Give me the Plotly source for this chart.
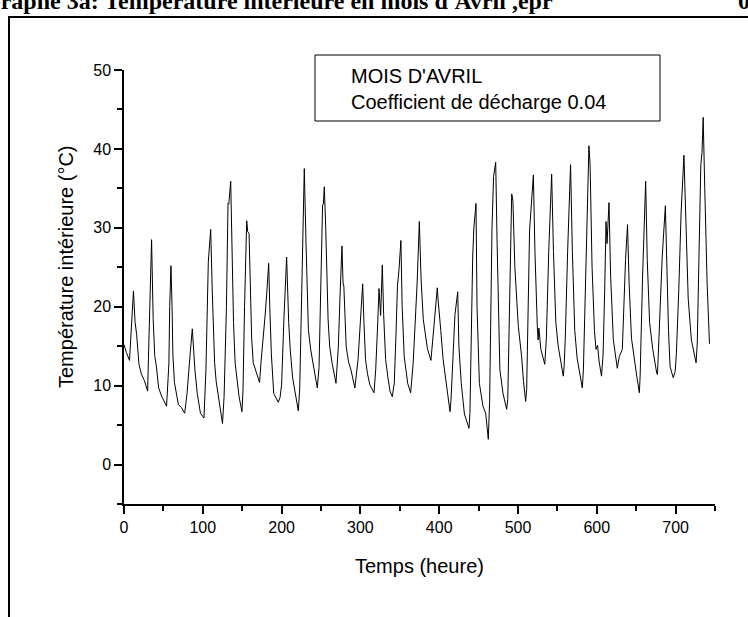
import plotly.graph_objects as go

# Data (hour, interior temperature °C)
hours = [0, 3, 7, 9, 12, 14, 16, 19, 22, 26, 30,
         31, 33, 35, 37, 38, 39, 41, 44, 48, 52, 54,
         56, 57, 58, 59.6, 61, 62, 64, 69, 73, 77,
         80, 83, 84, 86.7, 88, 90, 93, 97, 101.5,
         104, 107, 110, 112, 115, 117, 120, 123, 125,
         127, 130, 132, 133, 135.4, 137, 139, 141, 146, 149.7,
         151, 153, 155.7, 157, 158.7, 160, 162, 164, 170, 172,
         174, 177, 179, 181, 183.6, 185, 187, 190, 195.8,
         198, 200, 203, 206.4, 209, 211, 214, 217, 221.2,
         223, 226, 228.8, 231, 234, 237, 240, 245.3,
         247.5, 250, 252, 253, 254.2, 256, 259, 261, 264, 269,
         272, 274, 276.6, 278, 279, 282, 285, 288, 293,
         297, 300, 302.9, 304.5, 306.5, 309, 312, 317.3,
         319.4, 322, 323.6, 325.7, 327.8, 329.5, 332, 335, 337.6, 340.5,
         343, 345, 347, 349, 351.4, 353, 355.6, 360, 363.8,
         367, 369, 371, 372, 374.8, 377, 379.8, 382, 385, 389.5,
         393.7, 397.6, 398.5, 400, 402, 405, 409, 413.7,
         415, 418, 420, 423.5, 425, 428, 432, 437.8,
         439, 442.5, 444, 446.7, 448, 451, 455.5, 459, 462.3,
         464, 467, 469, 471.7, 473.5, 477, 481, 485.6,
         487, 490, 492, 493.5, 496, 500.4, 504.6, 507, 509.7,
         511, 514.7, 519.5, 521.5, 524.5, 525.5, 526.5, 529, 534,
         536, 539, 542.7, 545, 548, 551, 554, 557.5, 558.5,
         560, 563, 566.7, 569, 572, 575, 578, 581.6,
         583, 586, 590, 591.5, 594, 597, 599, 601, 603, 606,
         608, 610, 611.7, 613, 615.5, 617.5, 621, 626, 628.6, 632.4,
         634, 636.5, 639, 641, 644, 647, 651, 654,
         655, 658, 662, 664, 667, 671, 674, 676, 677, 678,
         681, 683, 687, 689, 691, 693, 697, 699.5, 701,
         704, 707, 710.6, 713, 716, 720, 723, 726, 727.5,
         730, 732, 733.5, 735, 737, 740, 743]

temps = [15.2, 14.2, 13.2, 16.5, 22.0, 18.1, 16.5, 12.7, 11.5, 10.6, 9.3,
         13.4, 20.0, 28.5, 18.5, 16.0, 13.8, 12.5, 9.7, 8.6, 7.8, 7.4,
         11.0, 12.9, 20.0, 25.2, 20.0, 14.0, 10.4, 7.6, 7.2, 6.5,
         9.0, 13.5, 14.1, 17.2, 15.0, 12.0, 9.0, 6.5, 5.9,
         12.0, 25.7, 29.8, 22.0, 12.9, 10.5, 8.6, 7.0, 5.2,
         8.6, 20.0, 33.1, 33.0, 35.9, 27.0, 18.0, 12.9, 8.6, 6.7,
         9.4, 20.0, 30.9, 29.5, 29.3, 24.0, 16.0, 12.9, 11.0, 10.4,
         13.1, 16.0, 18.8, 21.5, 25.5, 20.0, 14.0, 9.0, 7.9,
         8.5, 10.1, 18.6, 26.3, 18.0, 14.5, 11.0, 9.4, 6.8,
         9.7, 25.0, 37.5, 28.0, 17.1, 14.5, 12.9, 9.7,
         12.3, 24.0, 32.9, 33.0, 35.2, 30.0, 18.4, 15.0, 12.9, 10.3,
         14.9, 21.0, 27.7, 23.0, 22.6, 14.9, 13.0, 12.0, 9.7,
         13.3, 18.5, 22.9, 18.0, 13.3, 11.5, 10.1, 9.1,
         12.0, 18.0, 22.3, 18.9, 25.3, 19.0, 13.3, 11.0, 9.3, 8.6,
         10.3, 16.0, 22.6, 24.7, 28.4, 20.0, 13.7, 10.3, 9.1,
         12.9, 17.0, 22.6, 23.0, 30.8, 23.5, 18.4, 16.5, 14.7, 13.2,
         18.0, 22.4, 21.0, 19.6, 17.0, 13.3, 10.0, 6.7,
         8.2, 15.7, 19.0, 21.9, 15.0, 10.3, 6.4, 4.6,
         6.5, 26.3, 30.0, 33.1, 20.0, 10.3, 7.4, 6.5, 3.2,
         8.0, 30.0, 36.5, 38.3, 28.0, 12.0, 9.0, 7.0,
         8.2, 26.0, 34.3, 33.5, 25.0, 17.5, 13.7, 10.5, 8.0,
         9.5, 29.7, 36.7, 27.0, 17.5, 15.8, 17.3, 14.6, 12.7,
         16.0, 27.0, 36.8, 27.0, 18.0, 15.0, 13.0, 11.2, 12.4,
         16.0, 27.0, 38.0, 27.0, 17.0, 13.5, 11.9, 9.7,
         12.0, 25.0, 40.4, 38.0, 25.0, 17.0, 14.6, 15.1, 13.0, 11.2,
         14.0, 22.0, 30.8, 28.0, 33.2, 24.0, 15.8, 12.2, 13.7, 14.6,
         20.0, 26.0, 30.4, 23.0, 16.0, 13.7, 11.0, 9.1,
         11.2, 23.5, 35.9, 26.0, 18.0, 14.6, 12.5, 11.6, 11.4, 13.7,
         22.0, 26.3, 32.8, 24.0, 17.0, 12.4, 11.0, 11.8, 14.1,
         22.0, 32.0, 39.2, 30.0, 21.0, 15.8, 14.5, 12.9, 15.4,
         28.0, 38.0, 39.5, 44.0, 35.0, 23.0, 15.3]

x_tickvals = [0, 100, 200, 300, 400, 500, 600, 700]
y_tickvals = [0, 10, 20, 30, 40, 50]
legend_lines = ["MOIS D'AVRIL", "Coefficient de décharge 0.04"]
x_title = "Temps (heure)"
y_title = "Température intérieure (°C)"
page_title = "Graphe 3a: Température intérieure en mois d'Avril ,epr"

W, H = 748, 617
L, R, T, B = 124, 33, 70, 113
PW, PH = W - L - R, H - T - B


def px(xp):
    return (xp - L) / PW


def py(yp):
    return (H - B - yp) / PH


fig = go.Figure()
fig.add_trace(go.Scatter(x=hours, y=temps, mode="lines",
                         line=dict(color="black", width=1), showlegend=False))

axis_common = dict(showgrid=False, zeroline=False, showline=True,
                   linecolor="black", linewidth=1.5, ticks="outside",
                   tickcolor="black", tickwidth=1.5, ticklen=8,
                   tickfont=dict(family="Liberation Sans, Arial", size=16, color="black"))

fig.update_xaxes(range=[0, 750], tickvals=x_tickvals, **axis_common,
                 minor=dict(dtick=50, tick0=0, ticks="outside", ticklen=5,
                            tickcolor="black", tickwidth=1.5))
fig.update_yaxes(range=[-5, 50], tickvals=y_tickvals, **axis_common,
                 minor=dict(dtick=5, tick0=0, ticks="outside", ticklen=5,
                            tickcolor="black", tickwidth=1.5))

shapes = [
    # outer frame (left and top edges visible)
    dict(type="line", xref="paper", yref="paper", x0=px(9), x1=px(9),
         y0=py(17), y1=py(H + 5), line=dict(color="black", width=2)),
    dict(type="line", xref="paper", yref="paper", x0=px(8), x1=px(W + 5),
         y0=py(17), y1=py(17), line=dict(color="black", width=2)),
    # legend box
    dict(type="rect", xref="paper", yref="paper", x0=px(315), x1=px(660),
         y0=py(121), y1=py(55), line=dict(color="black", width=1),
         fillcolor="white"),
]

annotations = [
    dict(text="<br>".join(legend_lines), xref="paper", yref="paper",
         x=px(349), y=py(89), xanchor="left", yanchor="middle", align="left",
         showarrow=False, font=dict(family="Liberation Sans, Arial", size=20, color="black")),
    dict(text=x_title, xref="paper", yref="paper", x=px(419), y=py(566),
         xanchor="center", yanchor="middle", showarrow=False,
         font=dict(family="Liberation Sans, Arial", size=20, color="black")),
    dict(text=y_title, xref="paper", yref="paper", x=px(66), y=py(267),
         xanchor="center", yanchor="middle", textangle=-90, showarrow=False,
         font=dict(family="Liberation Sans, Arial", size=20, color="black")),
    dict(text="<b>" + page_title + "</b>", xref="paper", yref="paper",
         x=px(-20), y=py(16), xanchor="left", yanchor="bottom", showarrow=False,
         font=dict(family="Liberation Serif, Times New Roman", size=24, color="black")),
    dict(text="<b>0</b>", xref="paper", yref="paper",
         x=px(736), y=py(16), xanchor="left", yanchor="bottom", showarrow=False,
         font=dict(family="Liberation Serif, Times New Roman", size=24, color="black")),
]

fig.update_layout(width=W, height=H, margin=dict(l=L, r=R, t=T, b=B, autoexpand=False),
                  plot_bgcolor="white", paper_bgcolor="white",
                  shapes=shapes, annotations=annotations)

fig.write_html("out.html")
